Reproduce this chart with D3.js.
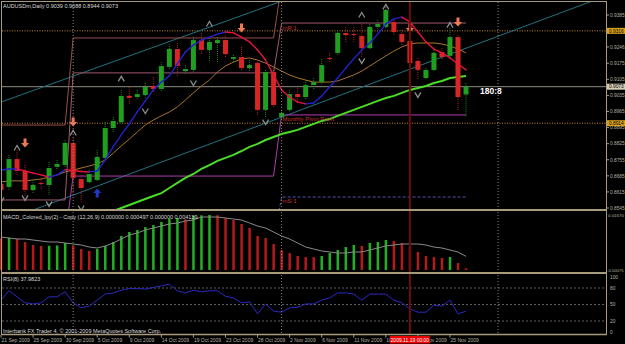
<!DOCTYPE html>
<html>
<head>
<meta charset="utf-8">
<script src="https://cdn.jsdelivr.net/npm/d3@7"></script>
<style>
html, body { margin:0; padding:0; background:#000; }
svg { display:block; }
text { font-family:"Liberation Sans", Arial, sans-serif; }
</style>
</head>
<body>
<svg id="chart" width="625" height="344"></svg>
<script>
// ---- data ----
const dateLabels = ["21 Sep 2009","25 Sep 2009","30 Sep 2009","5 Oct 2009","9 Oct 2009","14 Oct 2009","19 Oct 2009",
  "23 Oct 2009","28 Oct 2009","2 Nov 2009","6 Nov 2009","11 Nov 2009","16 Nov 2009","20 Nov 2009","25 Nov 2009"];
const dateLabelBars = [0,4,8,12,16,20,24,28,32,36,40,44,48,52,56];

const open = [0.8650,0.8637,0.8758,0.8706,0.8623,0.8654,0.8645,0.8724,0.8732,0.8828,
  0.8671,0.8658,0.8667,0.8763,0.8893,0.8919,0.9033,0.9028,0.9037,0.9076,
  0.9063,0.9159,0.9237,0.9141,0.9146,0.9276,0.9233,0.9263,0.9276,0.9194,
  0.9202,0.9154,0.9176,0.8972,0.9137,0.8941,0.8972,0.9041,0.9028,0.9080,
  0.9093,0.9198,0.9220,0.9307,0.9302,0.9294,0.9241,0.9333,0.9333,0.9355,
  0.9302,0.9272,0.9185,0.9111,0.9146,0.9224,0.9207,0.9289,0.9039];
const high = [0.8667,0.8776,0.8798,0.8732,0.8667,0.8676,0.8745,0.8754,0.8841,0.8850,
  0.8689,0.8710,0.8798,0.8919,0.8941,0.9059,0.9072,0.9059,0.9089,0.9115,
  0.9180,0.9259,0.9263,0.9167,0.9289,0.9307,0.9285,0.9289,0.9294,0.9211,
  0.9246,0.9189,0.9189,0.9146,0.9154,0.8972,0.9059,0.9067,0.9102,0.9111,
  0.9194,0.9220,0.9320,0.9333,0.9333,0.9355,0.9346,0.9363,0.9429,0.9372,
  0.9320,0.9285,0.9198,0.9154,0.9233,0.9241,0.9328,0.9298,0.9088];
const low = [0.8606,0.8623,0.8689,0.8597,0.8610,0.8623,0.8602,0.8710,0.8719,0.8610,
  0.8567,0.8650,0.8658,0.8754,0.8876,0.8911,0.8998,0.9015,0.9024,0.9046,
  0.9054,0.9146,0.9115,0.9128,0.9137,0.9211,0.9180,0.9180,0.9202,0.9180,
  0.9146,0.9137,0.8950,0.8937,0.8980,0.8928,0.8963,0.9006,0.9015,0.9059,
  0.9085,0.9180,0.9207,0.9263,0.9263,0.9202,0.9233,0.9320,0.9324,0.9298,
  0.9254,0.9167,0.9102,0.9102,0.9137,0.9189,0.9198,0.8972,0.8944];
const close = [0.8623,0.8758,0.8706,0.8623,0.8645,0.8650,0.8719,0.8737,0.8828,0.8676,
  0.8632,0.8693,0.8767,0.8893,0.8924,0.9033,0.9024,0.9041,0.9072,0.9063,
  0.9163,0.9237,0.9163,0.9150,0.9276,0.9233,0.9268,0.9276,0.9215,0.9202,
  0.9154,0.9167,0.8972,0.9137,0.8993,0.8959,0.9041,0.9028,0.9080,0.9093,
  0.9167,0.9194,0.9307,0.9298,0.9298,0.9241,0.9333,0.9346,0.9407,0.9311,
  0.9268,0.9176,0.9146,0.9146,0.9220,0.9202,0.9289,0.9028,0.9073];

// moving averages
const fastMA = [0.8710,0.8715,0.8715,0.8706,0.8697,0.8689,0.8680,0.8689,0.8712,0.8708,
  0.8704,0.8702,0.8706,0.8754,0.8811,0.8863,0.8911,0.8963,0.9011,0.9059,
  0.9093,0.9120,0.9172,0.9224,0.9254,0.9276,0.9289,0.9302,0.9311,0.9307,
  0.9289,0.9268,0.9233,0.9189,0.9124,0.9059,0.9028,0.9006,0.8998,0.9002,
  0.9033,0.9072,0.9111,0.9154,0.9194,0.9233,0.9263,0.9302,0.9346,0.9368,
  0.9376,0.9355,0.9311,0.9268,0.9237,0.9220,0.9198,0.9172,0.9146];
const midMA = [0.8658,0.8663,0.8663,0.8663,0.8667,0.8671,0.8680,0.8689,0.8702,0.8710,
  0.8719,0.8728,0.8737,0.8754,0.8784,0.8815,0.8845,0.8876,0.8906,0.8928,
  0.8946,0.8963,0.8985,0.9015,0.9046,0.9076,0.9102,0.9137,0.9163,0.9180,
  0.9194,0.9198,0.9189,0.9176,0.9159,0.9141,0.9124,0.9111,0.9102,0.9093,
  0.9093,0.9093,0.9098,0.9111,0.9124,0.9141,0.9163,0.9185,0.9207,0.9228,
  0.9246,0.9259,0.9263,0.9263,0.9263,0.9259,0.9250,0.9237,0.9220];
const slowMA = [null,null,null,null,null,null,null,null,null,null,null,null,null,
  0.8519,0.8532,0.8545,0.8558,0.8571,0.8584,0.8597,
  0.8610,0.8632,0.8654,0.8676,0.8693,0.8715,0.8732,0.8750,0.8763,0.8776,
  0.8793,0.8811,0.8824,0.8841,0.8854,0.8867,0.8876,0.8885,0.8898,0.8911,
  0.8924,0.8932,0.8946,0.8959,0.8972,0.8985,0.8998,0.9011,0.9024,0.9033,
  0.9046,0.9059,0.9067,0.9076,0.9089,0.9098,0.9111,0.9115,0.9120];

// monthly pivots (Sep, Oct, Nov)
const monthStartBar = [0, 9, 35];
const monthEndBar = [8, 34, 58];
const pivR2 = [0.8906, 0.9285, 0.9520];
const pivR1 = [0.8580, 0.9133, 0.9350];
const pivPP = [0.8420, 0.8684, 0.8950];
const pivS1 = [0.8300, 0.8400, 0.8593];

// trend channel anchors [bar, price]
const channelA = [[0, 0.9006], [33, 0.9420]];
const channelB = [[4, 0.8536], [50, 0.9136]];

// signal arrows and fractals [bar, price]
const downArrows = [[3,0.8828],[9,0.8919],[30,0.9328],[51,0.9328],[57,0.9355]];
const upArrows = [[12,0.8610]];
const fractalUp = [[2,0.8806],[9,0.8872],[15,0.9107],[26,0.9346],[45,0.9385],[48,0.9420],[56,0.9341]];
const fractalDown = [[0,0.8580],[3,0.8589],[6,0.8563],[10,0.8545],[18,0.8967],[24,0.9089],[33,0.8919],[45,0.9185],[52,0.9037]];

const priceTicks = [0.9385,0.9316,0.9246,0.9175,0.9105,0.9035,0.8965,0.8895,0.8825,0.8755,0.8685,0.8615,0.8545];
const levelLines = [0.9316, 0.8914];
const bid = 0.9073;

// MACD histogram + signal
const macdHist = [0.00960,0.00975,0.00941,0.00850,0.00759,0.00729,0.00735,0.00744,0.00820,0.00729,
  0.00638,0.00577,0.00638,0.00729,0.00850,0.01032,0.01154,0.01214,0.01305,0.01366,
  0.01457,0.01548,0.01579,0.01540,0.01640,0.01660,0.01670,0.01665,0.01579,0.01518,
  0.01397,0.01275,0.01032,0.00972,0.00789,0.00607,0.00516,0.00425,0.00395,0.00390,
  0.00425,0.00516,0.00607,0.00698,0.00759,0.00729,0.00820,0.00850,0.00911,0.00880,
  0.00820,0.00698,0.00547,0.00425,0.00395,0.00364,0.00395,0.00213,0.00050];
const macdSignal = [0.01002,0.00972,0.00941,0.00941,0.00911,0.00880,0.00850,0.00850,0.00820,0.00789,
  0.00759,0.00698,0.00668,0.00729,0.00820,0.00941,0.01063,0.01123,0.01214,0.01275,
  0.01336,0.01397,0.01427,0.01488,0.01518,0.01609,0.01609,0.01609,0.01579,0.01548,
  0.01518,0.01427,0.01336,0.01275,0.01154,0.01032,0.00941,0.00820,0.00698,0.00638,
  0.00577,0.00547,0.00516,0.00516,0.00547,0.00547,0.00607,0.00668,0.00729,0.00759,
  0.00789,0.00789,0.00789,0.00759,0.00698,0.00668,0.00607,0.00547,0.00414];

// RSI(8)
const rsi = [58,75,64,53,51,53,64,64,73,53,
  44,47,58,69,71,76,79,79,78,81,
  84,87,75,71,76,73,75,75,65,62,
  53,55,33,51,38,36,44,45,51,51,
  58,62,71,71,69,58,69,69,69,58,
  53,42,36,36,49,47,58,33,37.98];
const rsiLevels = [80, 50, 20];
const rsiTicks = [100, 80, 50, 20, 0];

// ---- layout ----
const svg = d3.select("#chart");
const W = 625, plotR = 606;
const frame = "#a89a7c";

const x = d3.scaleLinear().domain([0, 58]).range([1, 466]);
const y = d3.scaleLinear().domain([0.8545, 0.9385]).range([208, 15]);
const yM = d3.scaleLinear().domain([0, 0.0167]).range([270, 215]);
const yR = d3.scaleLinear().domain([0, 100]).range([332, 277]);
const bars = d3.range(open.length);

svg.append("rect").attr("width", W).attr("height", 344).attr("fill", "#000");

const defs = svg.append("defs");
defs.append("clipPath").attr("id", "clipMain").append("rect")
  .attr("x", 2).attr("y", 2).attr("width", plotR - 2).attr("height", 207);

const main = svg.append("g").attr("clip-path", "url(#clipMain)");

// level lines and bid line
main.selectAll("line.level").data(levelLines).enter().append("line")
  .attr("x1", 2).attr("x2", plotR).attr("y1", d => y(d)).attr("y2", d => y(d))
  .attr("stroke", "#c88a30").attr("stroke-dasharray", "1,1.5");
main.append("line").attr("x1", 2).attr("x2", plotR).attr("y1", y(bid)).attr("y2", y(bid))
  .attr("stroke", "#8e8a80");

// trend channel
function extend(a) {
  const slope = (a[1][1] - a[0][1]) / (a[1][0] - a[0][0]);
  return [[-2, a[0][1] + slope * (-2 - a[0][0])], [80, a[0][1] + slope * (80 - a[0][0])]];
}
[channelA, channelB].forEach(function(c) {
  const e = extend(c);
  main.append("line")
    .attr("x1", x(e[0][0])).attr("y1", y(e[0][1]))
    .attr("x2", x(e[1][0])).attr("y2", y(e[1][1]))
    .attr("stroke", "#1f7384").attr("stroke-width", 1);
});

// monthly pivot lines
function pivotPts(vals) {
  const pts = [];
  vals.forEach(function(v, m) {
    pts.push([monthStartBar[m], v]);
    pts.push([monthEndBar[m], v]);
  });
  return pts;
}
const pline = d3.line().x(d => x(d[0])).y(d => y(d[1]));
[[pivR2, "#9a4e4e", null], [pivR1, "#a05a6e", null], [pivPP, "#b03cb0", null], [pivS1, "#5a4cb0", "3,2"]]
  .forEach(function(p) {
    main.append("path").attr("d", pline(pivotPts(p[0])))
      .attr("fill", "none").attr("stroke", p[1]).attr("stroke-width", 1)
      .attr("stroke-dasharray", p[2]);
  });

// moving averages
const ma = d3.line().defined(d => d[1] != null).x(d => x(d[0])).y(d => y(d[1]));
main.append("path").attr("d", ma(slowMA.map((v, i) => [i, v])))
  .attr("fill", "none").attr("stroke", "#4cdc28").attr("stroke-width", 2);
main.append("path").attr("d", ma(midMA.map((v, i) => [i, v])))
  .attr("fill", "none").attr("stroke", "#a8742e").attr("stroke-width", 1);

// candles
const cg = main.append("g");
cg.selectAll("line.wick").data(bars).enter().append("line")
  .attr("x1", i => x(i)).attr("x2", i => x(i))
  .attr("y1", i => y(high[i])).attr("y2", i => y(low[i]))
  .attr("stroke", i => close[i] >= open[i] ? "#1a8a1a" : "#b02020")
  .attr("stroke-dasharray", "1,1");
cg.selectAll("rect.body").data(bars).enter().append("rect")
  .attr("x", i => x(i) - 2.5).attr("width", 5)
  .attr("y", i => y(Math.max(open[i], close[i])))
  .attr("height", i => Math.max(1, Math.abs(y(open[i]) - y(close[i]))))
  .attr("fill", i => close[i] >= open[i] ? "#1f9e1f" : "#d82626");

// fast MA coloured by direction
main.selectAll("line.fast").data(d3.range(1, fastMA.length)).enter().append("line")
  .attr("x1", i => x(i - 1)).attr("y1", i => y(fastMA[i - 1]))
  .attr("x2", i => x(i)).attr("y2", i => y(fastMA[i]))
  .attr("stroke", i => fastMA[i] >= fastMA[i - 1] ? "#2222cc" : "#e8143c")
  .attr("stroke-width", 1.4).attr("stroke-linecap", "round");

// pivot labels
const novStart = monthStartBar[2];
[["mR 1", pivR1[2]], ["Monthly Pivot Point", pivPP[2]], ["mS 1", pivS1[2]]].forEach(function(l) {
  main.append("text").attr("x", x(novStart) + 1).attr("y", y(l[1]) + 6.5)
    .attr("font-size", 6).attr("fill", "#c83030").text(l[0]);
});

// arrows
function arrow(cx, cy, dir) {
  const s = dir;
  return "M" + (cx - 1.5) + "," + (cy - 4.5 * s) + "L" + (cx + 1.5) + "," + (cy - 4.5 * s) +
    "L" + (cx + 1.5) + "," + cy + "L" + (cx + 4) + "," + cy + "L" + cx + "," + (cy + 4.5 * s) +
    "L" + (cx - 4) + "," + cy + "L" + (cx - 1.5) + "," + cy + "Z";
}
main.selectAll("path.dn").data(downArrows).enter().append("path")
  .attr("d", d => arrow(x(d[0]), y(d[1]), 1)).attr("fill", "#f07a52");
main.selectAll("path.up").data(upArrows).enter().append("path")
  .attr("d", d => arrow(x(d[0]), y(d[1]), -1)).attr("fill", "#2436c8");

// fractals
main.selectAll("path.fu").data(fractalUp).enter().append("path")
  .attr("d", d => { const cx = x(d[0]), cy = y(d[1]); return "M" + (cx - 3) + "," + (cy + 2.5) + "L" + cx + "," + (cy - 2.5) + "L" + (cx + 3) + "," + (cy + 2.5); })
  .attr("fill", "none").attr("stroke", "#8c8c8c").attr("stroke-width", 1.3);
main.selectAll("path.fd").data(fractalDown).enter().append("path")
  .attr("d", d => { const cx = x(d[0]), cy = y(d[1]); return "M" + (cx - 3) + "," + (cy - 2.5) + "L" + cx + "," + (cy + 2.5) + "L" + (cx + 3) + "," + (cy - 2.5); })
  .attr("fill", "none").attr("stroke", "#8c8c8c").attr("stroke-width", 1.3);

// timer text
svg.append("text").attr("x", 480).attr("y", 94).attr("font-size", 8.5).attr("font-weight", "bold")
  .attr("fill", "#ffffff").text("180:8");

// ---- MACD panel ----
svg.selectAll("rect.macd").data(bars).enter().append("rect")
  .attr("x", i => x(i) - 1.2).attr("width", 2.5)
  .attr("y", i => yM(macdHist[i])).attr("height", i => yM(0) - yM(macdHist[i]))
  .attr("fill", i => (i > 0 && macdHist[i] > macdHist[i - 1]) ? "#22b022" : "#b41a1a");
svg.append("path").attr("d", d3.line().x((d, i) => x(i)).y(d => yM(d))(macdSignal))
  .attr("fill", "none").attr("stroke", "#8a8a8a").attr("stroke-width", 1);

// ---- RSI panel ----
svg.selectAll("line.rl").data(rsiLevels).enter().append("line")
  .attr("x1", 2).attr("x2", plotR).attr("y1", d => yR(d)).attr("y2", d => yR(d))
  .attr("stroke", "#5e5e5e").attr("stroke-dasharray", "2,2");
svg.append("path").attr("d", d3.line().x((d, i) => x(i)).y(d => yR(d))(rsi))
  .attr("fill", "none").attr("stroke", "#2a2ac4").attr("stroke-width", 1);

// ---- separators and crosshair ----
const sepBars = [9, 35, 62];
svg.selectAll("line.sep").data(sepBars).enter().append("line")
  .attr("x1", d => x(d)).attr("x2", d => x(d)).attr("y1", 2).attr("y2", 334)
  .attr("stroke", "#8c8470").attr("stroke-dasharray", "1,2");
svg.append("line").attr("x1", x(51)).attr("x2", x(51)).attr("y1", 2).attr("y2", 334)
  .attr("stroke", "#6e0c0c").attr("stroke-width", 2);

// frame
svg.append("line").attr("x1", 1.5).attr("x2", 1.5).attr("y1", 1).attr("y2", 335).attr("stroke", frame);
svg.append("line").attr("x1", plotR + 0.5).attr("x2", plotR + 0.5).attr("y1", 1).attr("y2", 335).attr("stroke", frame);
[[1.5, 1], [210, 2], [273, 2], [334.5, 1.5]].forEach(function(s) {
  svg.append("line").attr("x1", 1).attr("x2", plotR + 1).attr("y1", s[0]).attr("y2", s[0])
    .attr("stroke", frame).attr("stroke-width", s[1]);
});

// ---- price axis ----
const axG = svg.append("g").attr("font-size", 4.8).attr("fill", "#b4b0a4");
priceTicks.forEach(function(p) {
  axG.append("line").attr("x1", plotR).attr("x2", plotR + 3).attr("y1", y(p)).attr("y2", y(p)).attr("stroke", frame);
  axG.append("text").attr("x", plotR + 4).attr("y", y(p) + 1.8).text(p.toFixed(4));
});
function tag(p, bg) {
  axG.append("rect").attr("x", plotR + 1).attr("y", y(p) - 3).attr("width", 18).attr("height", 6).attr("fill", bg);
  axG.append("text").attr("x", plotR + 3).attr("y", y(p) + 1.8).attr("fill", "#000").text(p.toFixed(4));
}
tag(levelLines[0], "#d8a020");
tag(levelLines[1], "#d8a020");
tag(bid, "#d4ccb4");

axG.append("text").attr("x", plotR + 2).attr("y", yM(0.0167) + 1.8).attr("font-size", 4.4).text("0.01670");
axG.append("text").attr("x", plotR + 1).attr("y", yM(0) + 1.8).attr("font-size", 4.2).text("-0.00075");
rsiTicks.forEach(function(t) {
  axG.append("text").attr("x", plotR + 4).attr("y", yR(t) + 1.8).text(t);
});

// ---- date axis ----
const dG = svg.append("g").attr("font-size", 5).attr("fill", "#b4b0a4");
dateLabelBars.forEach(function(b, k) {
  dG.append("line").attr("x1", x(b)).attr("x2", x(b)).attr("y1", 335).attr("y2", 337.5).attr("stroke", frame);
  dG.append("text").attr("x", x(b) + 0.5).attr("y", 342).text(dateLabels[k]);
});
svg.append("rect").attr("x", x(51) - 20).attr("y", 336).attr("width", 40).attr("height", 7.5).attr("fill", "#ee0000");
svg.append("text").attr("x", x(51)).attr("y", 342).attr("text-anchor", "middle")
  .attr("font-size", 5).attr("fill", "#fff").text("2009.11.19 00:00");

// ---- titles ----
const tG = svg.append("g").attr("font-size", 5.5).attr("fill", "#d8d8d8");
tG.append("text").attr("x", 3).attr("y", 7.5).text("AUDUSDm,Daily  0.9039 0.9088 0.8944 0.9073");
tG.append("text").attr("x", 3).attr("y", 219)
  .text("MACD_Colored_lpy(2) - Copy (12,26,9) 0.000000 0.000497 0.000000 0.004139");
tG.append("text").attr("x", 3).attr("y", 281).text("RSI(8) 37.9823");
tG.append("text").attr("x", 3).attr("y", 332.5).text("Interbank FX Trader 4, \u00a9 2001-2009 MetaQuotes Software Corp.");
</script>
</body>
</html>
